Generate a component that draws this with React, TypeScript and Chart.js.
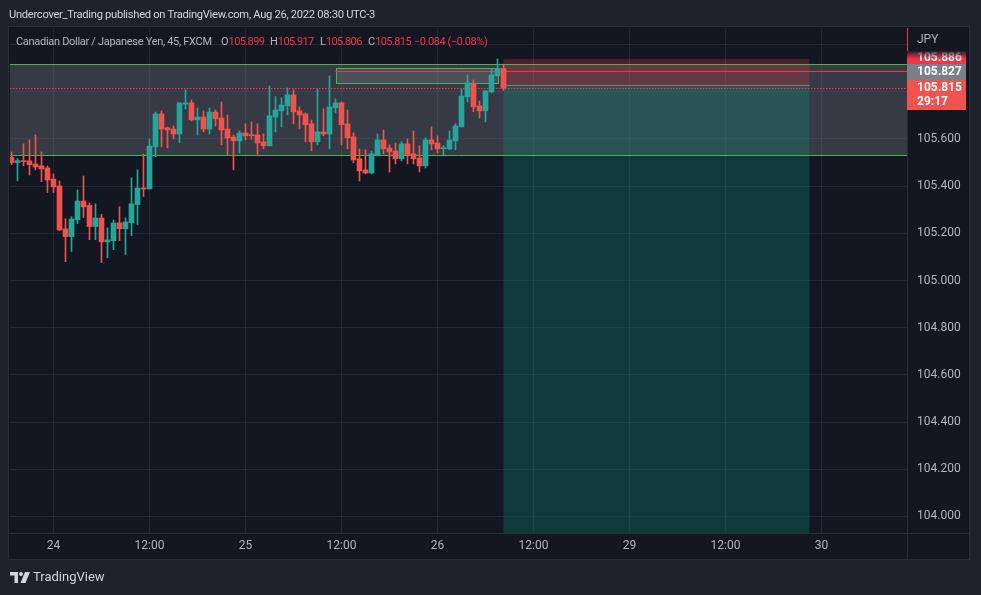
import React, { useEffect, useRef } from 'react';
import { Chart, registerables } from 'chart.js';

Chart.register(...registerables);

// ---- data (45-minute candles, CAD/JPY) ----
const opens = [
  105.522, 105.500, 105.507, 105.507, 105.494, 105.486, 105.477, 105.430, 105.401, 105.219,
  105.186, 105.258, 105.337, 105.318, 105.229, 105.265, 105.164, 105.169, 105.244, 105.220,
  105.245, 105.322, 105.392, 105.388, 105.566, 105.706, 105.647, 105.642, 105.621, 105.748,
  105.753, 105.681, 105.693, 105.642, 105.714, 105.689, 105.642, 105.608, 105.592, 105.625,
  105.618, 105.617, 105.588, 105.571, 105.693, 105.719, 105.740, 105.787, 105.719, 105.706,
  105.664, 105.588, 105.630, 105.621, 105.732, 105.753, 105.664, 105.609, 105.516, 105.469,
  105.456, 105.533, 105.596, 105.562, 105.549, 105.516, 105.579, 105.537, 105.520, 105.486,
  105.596, 105.583, 105.559, 105.558, 105.592, 105.651, 105.778, 105.833, 105.740, 105.719,
  105.799, 105.868, 105.899,
];
const highs = [
  105.545, 105.517, 105.579, 105.596, 105.617, 105.545, 105.486, 105.452, 105.422, 105.262,
  105.271, 105.384, 105.443, 105.329, 105.325, 105.281, 105.223, 105.257, 105.313, 105.265,
  105.435, 105.469, 105.536, 105.600, 105.714, 105.719, 105.651, 105.655, 105.753, 105.808,
  105.765, 105.731, 105.719, 105.731, 105.723, 105.757, 105.702, 105.617, 105.634, 105.664,
  105.672, 105.664, 105.621, 105.825, 105.780, 105.774, 105.816, 105.808, 105.736, 105.710,
  105.681, 105.812, 105.727, 105.867, 105.770, 105.757, 105.723, 105.626, 105.558, 105.554,
  105.549, 105.621, 105.638, 105.575, 105.583, 105.588, 105.600, 105.634, 105.571, 105.604,
  105.651, 105.613, 105.571, 105.634, 105.664, 105.812, 105.871, 105.850, 105.761, 105.804,
  105.897, 105.939, 105.917,
];
const lows = [
  105.491, 105.423, 105.486, 105.447, 105.469, 105.419, 105.373, 105.373, 105.212, 105.080,
  105.123, 105.241, 105.267, 105.173, 105.173, 105.076, 105.097, 105.131, 105.169, 105.110,
  105.190, 105.237, 105.356, 105.388, 105.524, 105.566, 105.562, 105.600, 105.583, 105.727,
  105.676, 105.617, 105.630, 105.621, 105.655, 105.575, 105.532, 105.469, 105.541, 105.596,
  105.600, 105.536, 105.558, 105.571, 105.630, 105.651, 105.702, 105.664, 105.643, 105.588,
  105.549, 105.575, 105.613, 105.558, 105.710, 105.575, 105.558, 105.499, 105.422, 105.452,
  105.452, 105.528, 105.537, 105.460, 105.494, 105.507, 105.494, 105.494, 105.460, 105.477,
  105.554, 105.541, 105.532, 105.554, 105.554, 105.651, 105.757, 105.715, 105.689, 105.672,
  105.795, 105.866, 105.806,
];
const closes = [
  105.500, 105.508, 105.504, 105.491, 105.481, 105.473, 105.426, 105.397, 105.214, 105.186,
  105.261, 105.337, 105.312, 105.229, 105.265, 105.164, 105.172, 105.244, 105.220, 105.248,
  105.325, 105.392, 105.388, 105.570, 105.706, 105.642, 105.638, 105.621, 105.753, 105.752,
  105.681, 105.693, 105.642, 105.714, 105.685, 105.638, 105.604, 105.592, 105.625, 105.613,
  105.614, 105.583, 105.571, 105.698, 105.723, 105.744, 105.787, 105.715, 105.702, 105.660,
  105.588, 105.630, 105.621, 105.736, 105.753, 105.660, 105.605, 105.511, 105.465, 105.456,
  105.537, 105.596, 105.558, 105.545, 105.516, 105.579, 105.531, 105.516, 105.486, 105.596,
  105.579, 105.558, 105.562, 105.596, 105.655, 105.782, 105.838, 105.736, 105.719, 105.804,
  105.871, 105.899, 105.815,
];

// time axis (candle index units, 45 min per candle)
const timeTickIndex = [7, 23, 39, 55, 71, 87, 103, 119, 135];
const timeTickLabels = ['24', '12:00', '25', '12:00', '26', '12:00', '29', '12:00', '30'];
const xRange = [-0.25, 149.25];

// price axis
const priceTicks = [104.0, 104.2, 104.4, 104.6, 104.8, 105.0, 105.2, 105.4, 105.6, 105.8, 106.0];
const priceLabelMax = 105.7;
const yRange = [103.93, 106.066];

// drawings
const rangeBox = { from: -10, to: 200, top: 105.918, bottom: 105.532 };
const smallBox = { from: 54, to: 81, top: 105.9, bottom: 105.836 };
const stopLine = { from: 54, price: 105.886 };
const position = { from: 82, to: 133, entry: 105.827, stop: 105.939, target: 103.9 };
const lastPrice = 105.815;
const countdown = '29:17';
const currency = 'JPY';
const changeText = '−0.084 (−0.08%)';

// ---- styling ----
const FONT = "Roboto, 'Liberation Sans', sans-serif";
const UP = '#26a69a';
const DOWN = '#ef5350';
const OUTER_BG = '#1e222d';
const PANEL_BG = '#131722';
const GRID = 'rgba(42,46,57,0.75)';
const BORDER = '#2a2e39';
const TEXT = '#b2b5be';
const RED = '#f23645';
const GREEN = '#4caf50';

const crisp = (v: number) => Math.round(v) + 0.5;

const overlayPlugin = {
  id: 'tvOverlays',
  beforeDraw(chart: any) {
    const { ctx, chartArea } = chart;
    const xS = chart.scales.x;
    const yS = chart.scales.y;
    ctx.save();
    ctx.fillStyle = OUTER_BG;
    ctx.fillRect(0, 0, chart.width, chart.height);
    ctx.fillStyle = PANEL_BG;
    ctx.fillRect(chartArea.left - 1, chartArea.top - 2, yS.right - chartArea.left + 1, xS.bottom - chartArea.top + 2);
    ctx.restore();
  },
  beforeDatasetsDraw(chart: any) {
    const { ctx, chartArea } = chart;
    const xS = chart.scales.x;
    const yS = chart.scales.y;
    const X = (v: number) => xS.getPixelForValue(v);
    const Y = (v: number) => yS.getPixelForValue(v);
    ctx.save();
    ctx.beginPath();
    ctx.rect(chartArea.left, chartArea.top, chartArea.right - chartArea.left, chartArea.bottom - chartArea.top);
    ctx.clip();

    // range box
    ctx.fillStyle = 'rgba(120,123,134,0.35)';
    ctx.fillRect(X(rangeBox.from), Y(rangeBox.top), X(rangeBox.to) - X(rangeBox.from), Y(rangeBox.bottom) - Y(rangeBox.top));

    // position tool zones
    ctx.fillStyle = 'rgba(242,54,69,0.25)';
    ctx.fillRect(X(position.from), Y(position.stop), X(position.to) - X(position.from), Y(position.entry) - Y(position.stop));
    ctx.fillStyle = 'rgba(8,153,129,0.26)';
    ctx.fillRect(X(position.from), Y(position.entry), X(position.to) - X(position.from), Y(position.target) - Y(position.entry));

    ctx.lineWidth = 1;
    // green range lines
    ctx.strokeStyle = GREEN;
    [rangeBox.top, rangeBox.bottom].forEach((p) => {
      ctx.beginPath();
      ctx.moveTo(chartArea.left, crisp(Y(p)));
      ctx.lineTo(chartArea.right, crisp(Y(p)));
      ctx.stroke();
    });

    // small box
    ctx.fillStyle = 'rgba(140,143,154,0.25)';
    const sx0 = crisp(X(smallBox.from));
    const sx1 = crisp(X(smallBox.to));
    const sy0 = crisp(Y(smallBox.top));
    const sy1 = crisp(Y(smallBox.bottom));
    ctx.fillRect(sx0, sy0, sx1 - sx0, sy1 - sy0);
    ctx.strokeStyle = GREEN;
    ctx.strokeRect(sx0, sy0, sx1 - sx0, sy1 - sy0);

    // stop line
    ctx.strokeStyle = RED;
    ctx.beginPath();
    ctx.moveTo(X(stopLine.from), crisp(Y(stopLine.price)));
    ctx.lineTo(chartArea.right, crisp(Y(stopLine.price)));
    ctx.stroke();

    // entry line
    ctx.strokeStyle = '#787b86';
    ctx.beginPath();
    ctx.moveTo(X(position.from), crisp(Y(position.entry)));
    ctx.lineTo(X(position.to), crisp(Y(position.entry)));
    ctx.stroke();

    // last price dotted line
    ctx.strokeStyle = RED;
    ctx.setLineDash([1.5, 1.5]);
    ctx.beginPath();
    ctx.moveTo(chartArea.left, crisp(Y(lastPrice)));
    ctx.lineTo(chartArea.right, crisp(Y(lastPrice)));
    ctx.stroke();
    ctx.setLineDash([]);
    ctx.restore();
  },
  afterDraw(chart: any) {
    const { ctx, chartArea } = chart;
    const xS = chart.scales.x;
    const yS = chart.scales.y;
    const Y = (v: number) => yS.getPixelForValue(v);
    ctx.save();
    // separators and panel border
    ctx.strokeStyle = BORDER;
    ctx.lineWidth = 1;
    ctx.beginPath();
    ctx.moveTo(crisp(chartArea.right), chartArea.top - 2);
    ctx.lineTo(crisp(chartArea.right), xS.bottom);
    ctx.moveTo(chartArea.left - 1, crisp(chartArea.bottom));
    ctx.lineTo(yS.right, crisp(chartArea.bottom));
    ctx.stroke();
    ctx.strokeRect(chartArea.left - 1.5, chartArea.top - 2.5, yS.right - chartArea.left + 2, xS.bottom - chartArea.top + 3);

    const axL = chartArea.right;
    const axW = yS.right - chartArea.right - 3;
    const tx = axL + 10;
    ctx.textBaseline = 'middle';
    ctx.textAlign = 'left';

    // currency
    ctx.font = `12px ${FONT}`;
    ctx.fillStyle = TEXT;
    ctx.fillText(currency, tx, chartArea.top + 11);

    // last price label
    const lpY = Y(lastPrice);
    const lpTop = Math.round(lpY - 8);
    const lpH = 30;
    ctx.fillStyle = '#f0524f';
    ctx.fillRect(axL, lpTop, axW, lpH);
    ctx.fillStyle = '#ffffff';
    ctx.font = `bold 12px ${FONT}`;
    ctx.fillText(lastPrice.toFixed(3), tx, lpTop + 8);
    ctx.fillText(countdown, tx, lpTop + 22);

    // entry label (pushed above)
    const enH = 16;
    const enTop = lpTop - enH;
    ctx.fillStyle = '#7c7f8a';
    ctx.fillRect(axL, enTop, axW, enH);
    ctx.fillStyle = '#ffffff';
    ctx.fillText(position.entry.toFixed(3), tx, enTop + 8);

    // stop label (pushed above, partly hidden)
    const stH = 13;
    const stTop = enTop - stH;
    ctx.fillStyle = RED;
    ctx.fillRect(axL, stTop, axW, stH);
    ctx.fillStyle = '#ffffff';
    ctx.fillText(stopLine.price.toFixed(3), tx, stTop + 7);
    const g = ctx.createLinearGradient(0, stTop - 1, 0, stTop + 8);
    g.addColorStop(0, 'rgba(19,23,34,1)');
    g.addColorStop(1, 'rgba(19,23,34,0)');
    ctx.fillStyle = g;
    ctx.fillRect(axL, stTop - 1, axW, 9);

    // red marker on axis border
    ctx.strokeStyle = RED;
    ctx.beginPath();
    ctx.moveTo(crisp(axL), chartArea.top - 1);
    ctx.lineTo(crisp(axL), stTop);
    ctx.stroke();
    ctx.restore();
  },
};

export default function App() {
  const ref = useRef<HTMLCanvasElement>(null);

  useEffect(() => {
    const idx = opens.map((_, i) => i);
    const colors = idx.map((i) => (closes[i] >= opens[i] ? UP : DOWN));
    const chart = new Chart(ref.current as HTMLCanvasElement, {
      type: 'bar',
      data: {
        datasets: [
          {
            label: 'body',
            data: idx.map((i) => ({ x: i, y: [opens[i], closes[i]] })) as any,
            backgroundColor: colors,
            barThickness: 5,
            minBarLength: 1,
            grouped: false,
            order: 1,
          } as any,
          {
            label: 'wick',
            data: idx.map((i) => ({ x: i, y: [lows[i], highs[i]] })) as any,
            backgroundColor: colors,
            barThickness: 1,
            grouped: false,
            order: 2,
          } as any,
        ],
      },
      options: {
        animation: false,
        responsive: false,
        devicePixelRatio: 1,
        layout: { padding: { left: 10, right: 12, top: 29, bottom: 36 } },
        plugins: { legend: { display: false }, tooltip: { enabled: false } },
        scales: {
          x: {
            type: 'linear',
            offset: false,
            min: xRange[0],
            max: xRange[1],
            afterBuildTicks: (s: any) => {
              s.ticks = timeTickIndex.map((v) => ({ value: v }));
            },
            afterFit: (s: any) => {
              s.height = 26;
            },
            ticks: {
              autoSkip: false,
              maxRotation: 0,
              color: TEXT,
              font: { family: FONT, size: 12 },
              padding: 6,
              callback: (v: any) => {
                const k = timeTickIndex.indexOf(Number(v));
                return k >= 0 ? timeTickLabels[k] : '';
              },
            },
            grid: { color: GRID, drawTicks: false, offset: false },
            border: { display: false },
          },
          y: {
            type: 'linear',
            position: 'right',
            min: yRange[0],
            max: yRange[1],
            afterBuildTicks: (s: any) => {
              s.ticks = priceTicks.map((v) => ({ value: v }));
            },
            afterFit: (s: any) => {
              s.width = 62;
            },
            ticks: {
              color: TEXT,
              font: { family: FONT, size: 12 },
              padding: 10,
              callback: (v: any) => (Number(v) > priceLabelMax ? '' : Number(v).toFixed(3)),
            },
            grid: { color: GRID, drawTicks: false },
            border: { display: false },
          },
        },
      } as any,
      plugins: [overlayPlugin],
    });
    return () => chart.destroy();
  }, []);

  const last = opens.length - 1;
  const legendItems = [
    { key: 'O', value: opens[last].toFixed(3), left: 221 },
    { key: 'H', value: highs[last].toFixed(3), left: 270 },
    { key: 'L', value: lows[last].toFixed(3), left: 320 },
    { key: 'C', value: closes[last].toFixed(3), left: 368 },
  ];
  const legendText = { position: 'absolute' as const, top: 34, fontSize: 11, lineHeight: '16px', whiteSpace: 'pre' as const };
  return (
    <div
      style={{
        position: 'fixed',
        left: 0,
        top: 0,
        width: 981,
        height: 595,
        background: OUTER_BG,
        overflow: 'hidden',
        fontFamily: FONT,
      }}
    >
      <canvas ref={ref} width={981} height={595} style={{ position: 'absolute', left: 0, top: 0, width: 981, height: 595 }} />
      <div style={{ position: 'absolute', left: 9, top: 7, fontSize: 11.2, letterSpacing: -0.3, lineHeight: '16px', color: '#d1d4dc', whiteSpace: 'pre' }}>
        Undercover_Trading published on TradingView.com, Aug 26, 2022 08:30 UTC-3
      </div>
      <div style={{ ...legendText, left: 16, letterSpacing: -0.3, color: TEXT }}>Canadian Dollar / Japanese Yen, 45, FXCM</div>
      {legendItems.map((it) => (
        <div key={it.key} style={{ ...legendText, left: it.left, color: TEXT }}>
          <span>{it.key}</span>
          <span style={{ color: RED, letterSpacing: -0.6 }}>{it.value}</span>
        </div>
      ))}
      <div style={{ ...legendText, left: 414, color: RED, letterSpacing: -0.45 }}>{changeText}</div>
      <div style={{ position: 'absolute', left: 10, top: 569, display: 'flex', alignItems: 'center', color: '#d1d4dc' }}>
        <svg width="20" height="11" viewBox="0 0 20 11">
          <path d="M0 0h8v11H4.5V3.5H0z" fill="#d1d4dc" />
          <circle cx="11" cy="2" r="2" fill="#d1d4dc" />
          <path d="M15 0h5l-4.5 11H10.5z" fill="#d1d4dc" />
        </svg>
        <span style={{ marginLeft: 3, fontSize: 13, lineHeight: '16px' }}>TradingView</span>
      </div>
    </div>
  );
}
